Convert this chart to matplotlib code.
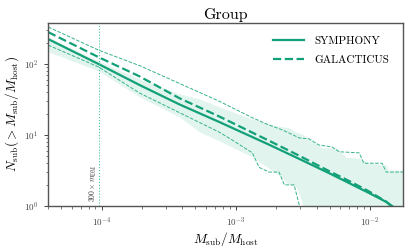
import matplotlib
matplotlib.use("Agg")
import matplotlib.pyplot as plt
import numpy as np

plt.rcParams['font.family'] = 'serif'
plt.rcParams['font.serif'] = ['cmr10']
plt.rcParams['mathtext.fontset'] = 'cm'
plt.rcParams['axes.formatter.use_mathtext'] = True

GREEN = '#12a079'
LIGHT = '#34b38c'
BAND = '#e2f4ee'

# Symphony mean curve
sym_x = [4e-5, 9.5e-5, 1.92e-4, 3.8e-4, 7.5e-4, 1.77e-3, 2.97e-3, 4.95e-3, 6.98e-3, 9.84e-3, 1.32e-2, 1.46e-2]
sym_n = [225, 100, 50.6, 27, 15.3, 7.3, 4.6, 2.9, 2.1, 1.52, 1.14, 1.0]

# Symphony scatter band
band_x = [4e-5, 9.5e-5, 1.9e-4, 3.8e-4, 5.4e-4, 7.5e-4, 1.3e-3, 2.0e-3, 2.5e-3, 2.8e-3, 3.05e-3, 3.2e-3,
          4.4e-3, 5.6e-3, 6.6e-3, 8.3e-3, 9.8e-3, 1.32e-2, 1.38e-2, 1.76e-2]
band_lo = [150, 80, 35, 18, 11, 8.3, 5.0, 2.9, 2.0, 1.9, 1.3, 0.9,
           0.9, 0.9, 0.9, 0.9, 0.9, 0.9, 0.9, 0.9]
band_hi = [238, 110, 62, 38, 32, 25, 17, 13.5, 12.6, 11, 10.5, 10,
           6.6, 6.6, 4.9, 4.7, 4.0, 3.8, 3.2, 3.2]

# Galacticus mean curve
gal_x = [4e-5, 9.5e-5, 1.92e-4, 3.8e-4, 7.5e-4, 1.77e-3, 2.97e-3, 4.95e-3, 6.98e-3, 9.84e-3, 1.32e-2, 1.43e-2]
gal_n = [282, 125, 67, 33, 18.3, 8.3, 5.1, 3.1, 2.25, 1.6, 1.15, 1.0]

# Galacticus scatter (upper / lower)
gup_x = [4e-5, 9.5e-5, 1.92e-4, 7.5e-4, 1.33e-3, 1.77e-3, 2.22e-3, 2.97e-3, 3.52e-3, 4.18e-3, 5.2e-3,
         5.9e-3, 8.3e-3, 9.0e-3, 1.23e-2, 1.32e-2, 1.76e-2]
gup_n = [333, 157, 95, 30, 17.5, 13.8, 11.8, 9.1, 8.8, 7.2, 6.8,
         5.8, 5.6, 4.0, 4.0, 3.0, 3.0]
glo_x = [4e-5, 9.5e-5, 1.92e-4, 7.5e-4, 9.4e-4, 1.33e-3, 1.49e-3, 1.77e-3, 2.1e-3, 2.3e-3, 2.72e-3, 2.97e-3, 3.05e-3]
glo_n = [185, 91, 39, 11, 8.5, 5.6, 3.5, 3.0, 3.0, 1.98, 1.98, 1.03, 0.5]

m_dm_cut = 9.55e-5

fig = plt.figure(figsize=(4.15, 2.49), dpi=100)
ax = fig.add_axes([0.116, 0.173, 0.855, 0.735])

ax.fill_between(band_x, band_lo, band_hi, color=BAND, lw=0)
ax.plot(sym_x, sym_n, color=GREEN, lw=1.6, label='SYMPHONY')
ax.plot(gal_x, gal_n, color=GREEN, lw=1.6, ls='--', label='GALACTICUS')
ax.plot(gup_x, gup_n, color=LIGHT, lw=0.7, ls='--')
ax.plot(glo_x, glo_n, color=LIGHT, lw=0.7, ls='--')

ax.axvline(m_dm_cut, color='#45c09b', lw=0.8, ls=':')
ax.text(8.75e-5, 2.1, r'$300\times m_{\rm DM}$', rotation=90, fontsize=5.5,
        ha='center', va='center', color='#333333')

ax.set_xscale('log')
ax.set_yscale('log')
ax.set_xlim(4e-5, 1.76e-2)
ax.set_ylim(1, 380)

ax.set_xlabel(r'$M_{\rm sub}/M_{\rm host}$', fontsize=9.5, labelpad=1)
ax.set_ylabel(r'$N_{\rm sub}(>M_{\rm sub}/M_{\rm host})$', fontsize=9.5, labelpad=2)
ax.set_title('Group', fontsize=11.5, pad=3)

ax.tick_params(which='major', labelsize=6.5, length=3, width=0.7, colors='#444444', pad=4)
ax.tick_params(which='minor', length=1.8, width=0.5, colors='#444444')
for s in ax.spines.values():
    s.set_color('#555555')
    s.set_linewidth(1.0)

ax.legend(loc='upper right', frameon=False, fontsize=8, handlelength=2.8,
          handletextpad=1.0, labelspacing=0.85, borderaxespad=0.8)

fig.savefig('out.png', dpi=100)
